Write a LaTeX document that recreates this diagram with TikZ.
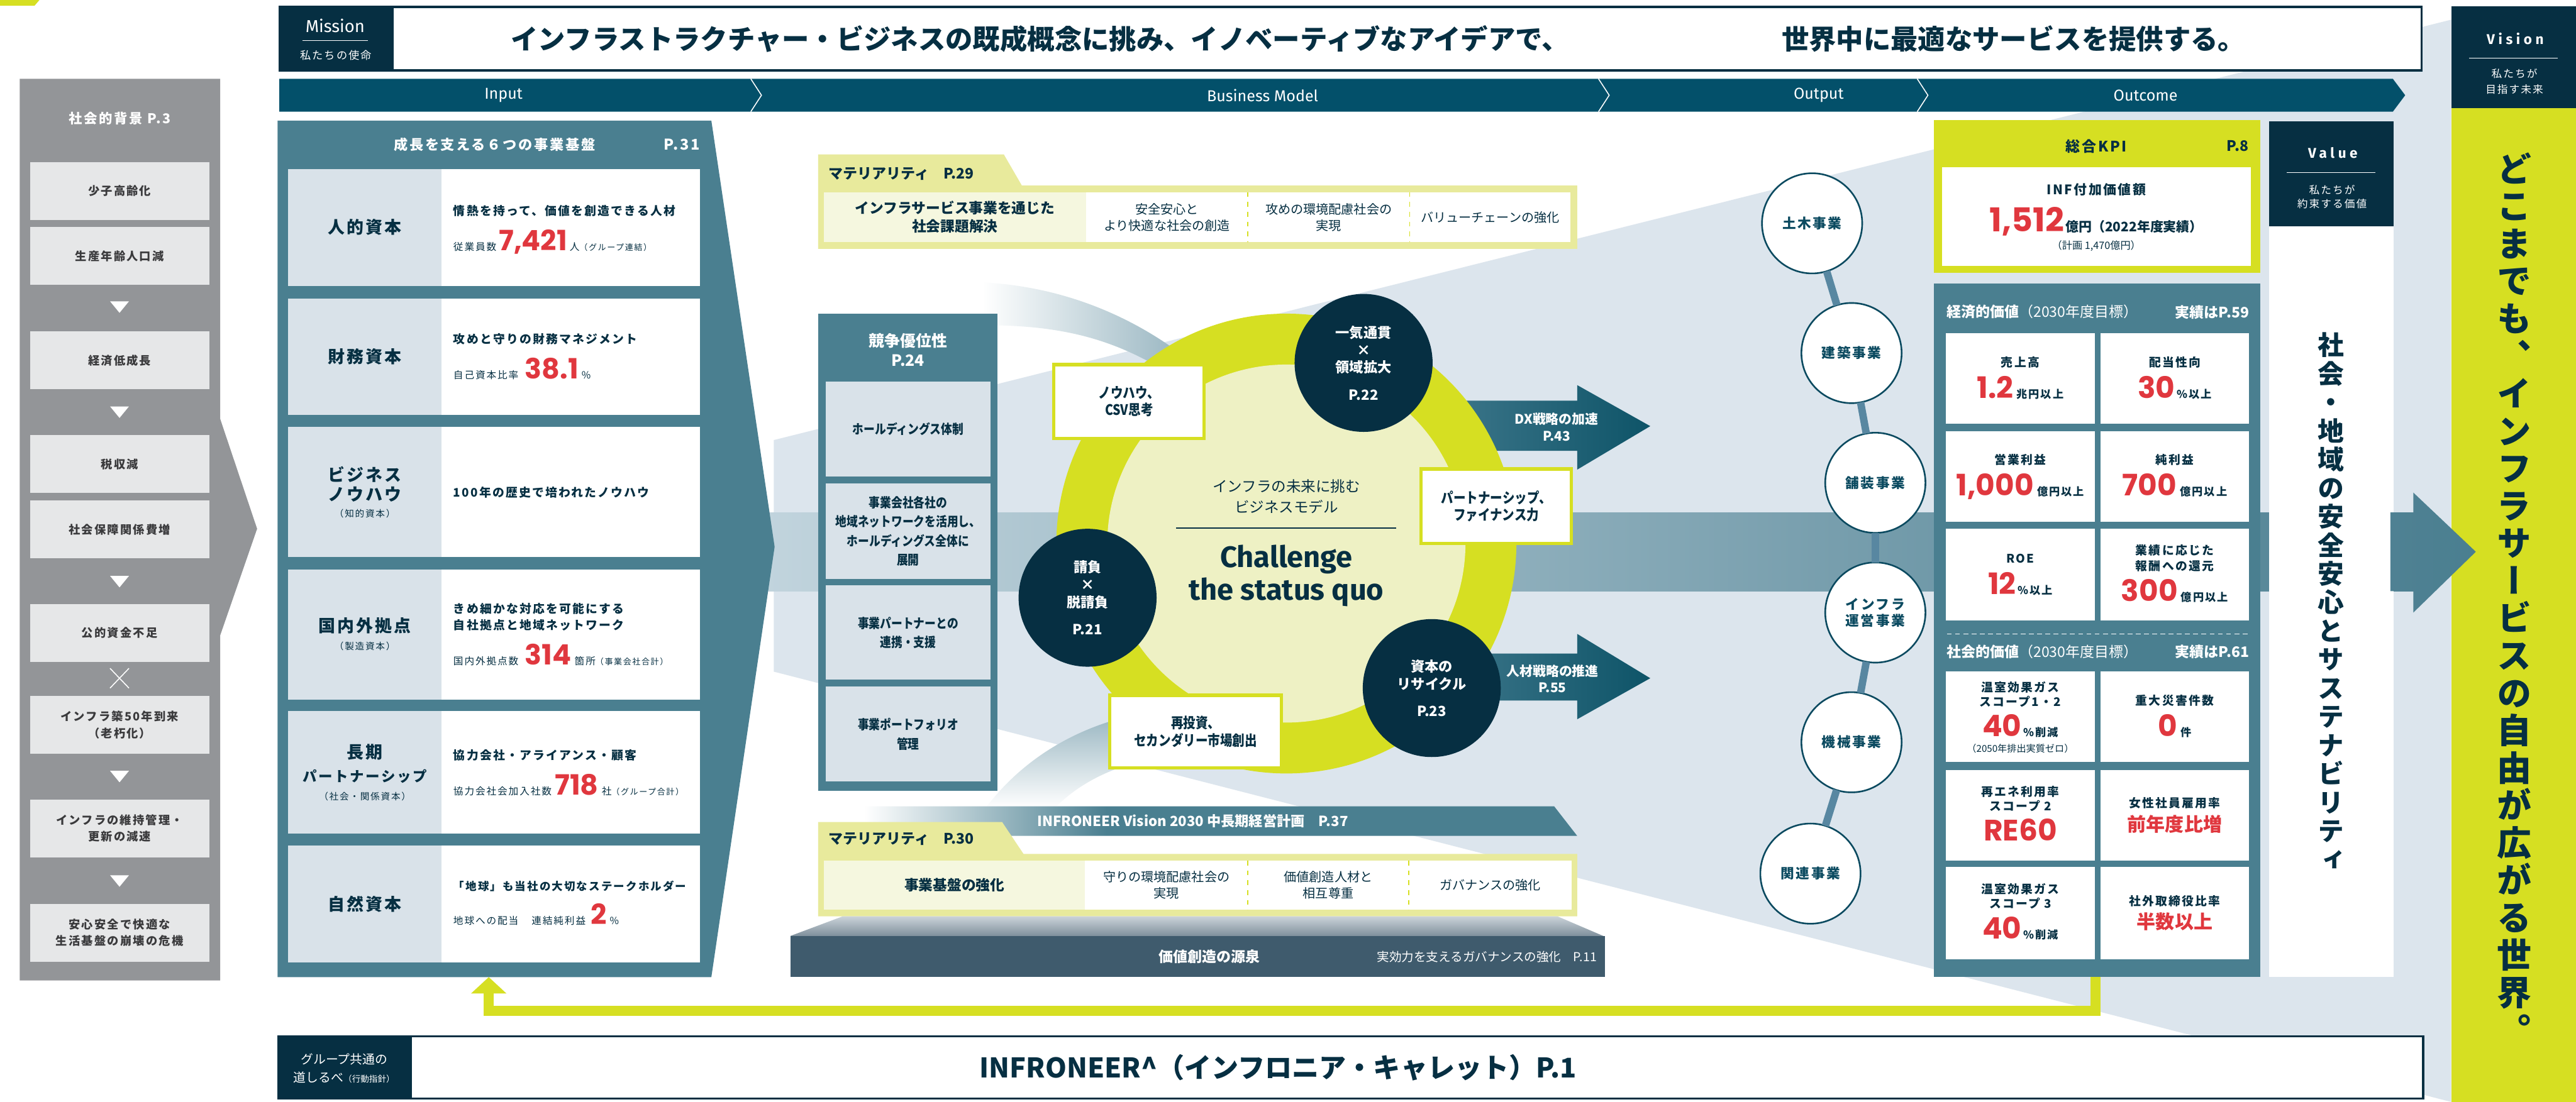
\documentclass[tikz,border=0pt]{standalone}
\usepackage{fontspec}
\setmainfont{Noto Sans CJK JP}
\newfontfamily\jpls[LetterSpace=12]{Noto Sans CJK JP}
\newfontfamily\jpc[FakeStretch=0.85]{Noto Sans CJK JP}
\newfontfamily\jpv[RawFeature=+vert]{Noto Sans CJK JP}
\newfontfamily\num{Poppins}
\newfontfamily\fira{Fira Sans}
\newfontfamily\firals[LetterSpace=25]{Fira Sans}
\usetikzlibrary{arrows.meta}
\definecolor{navy}{HTML}{062F42}
\definecolor{hdr}{HTML}{03506A}
\definecolor{panel}{HTML}{4A7F90}
\definecolor{cellL}{HTML}{D9E2E9}
\definecolor{ygreen}{HTML}{D6DF22}
\definecolor{mtab}{HTML}{E8EA9C}
\definecolor{mcell}{HTML}{F5F7DF}
\definecolor{kred}{HTML}{E0373E}
\definecolor{gcol}{HTML}{939598}
\definecolor{gbox}{HTML}{E6E7E8}
\definecolor{gtext}{HTML}{3A3A3C}
\definecolor{wedge}{HTML}{DCE5ED}
\definecolor{darkblk}{HTML}{3F5B6D}
\definecolor{ringin}{HTML}{EEF1C4}
\definecolor{outline}{HTML}{0B4A60}
\definecolor{outconn}{HTML}{5887A1}
\definecolor{arrL}{HTML}{3A7488}
\definecolor{arrR}{HTML}{0E5468}
\definecolor{bandL}{HTML}{C4D6DF}
\definecolor{bandR}{HTML}{4F8193}
\definecolor{swoosh}{HTML}{9DB9C4}
\definecolor{trapT}{HTML}{CBD3D9}
\definecolor{trapB}{HTML}{7F909C}
\pgfdeclarehorizontalshading{visfade}{100bp}{color(0bp)=(white); color(25bp)=(white); color(42bp)=(panel); color(100bp)=(panel)}
\newcommand\fs[1]{\fontsize{#1}{#1}\selectfont}
\newcommand\fsb[2]{\fontsize{#1}{#2}\selectfont}
\newcommand\rn[2]{{\num\bfseries\fontsize{#1}{#1}\selectfont\color{kred}#2}}
\newcommand\ku[1]{{\jpls\bfseries\fs{6.6}\color{navy}#1}}
\newcommand\ks[1]{{\jpls\fs{6}#1}}
\tikzset{
  bgbox/.style={fill=gbox, minimum width=109pt, minimum height=35.2pt, align=center, text=gtext, font=\jpls\bfseries\fsb{7}{10}},
  inL/.style={fill=cellL, minimum width=93.2pt},
  inR/.style={fill=white, minimum width=157.3pt},
  inLT/.style={font=\jpls\bfseries\fs{10.3}, text=navy},
  inSub/.style={font=\jpls\fs{5.6}, text=navy},
  inRT/.style={anchor=west, font=\jpls\bfseries\fs{7.2}, text=navy},
  inNum/.style={anchor=base west, text=navy},
  cpcell/.style={fill=cellL, minimum width=100.5pt, minimum height=57.5pt, align=center, text=navy, font=\jpc\bfseries\fsb{8}{11.7}},
  navyc/.style={circle, fill=navy, minimum size=84pt, align=center, text=white, font=\bfseries\fsb{8.5}{10.6}},
  ybox/.style={draw=ygreen, line width=2pt, fill=white, align=center, text=navy, font=\jpc\bfseries\fsb{8.8}{10.6}},
  outc/.style={circle, draw=outline, line width=1pt, fill=white, minimum size=61pt, align=center, text=outline, font=\jpls\bfseries\fsb{8.3}{9.8}},
  conn/.style={draw=outconn, line width=4.5pt},
  kcell/.style={fill=white, minimum width=90.5pt, minimum height=55pt},
  ktitle/.style={font=\jpls\bfseries\fs{7.2}, text=navy},
  mtxt/.style={align=center, text=navy},
  hdrlbl/.style={font=\fira\fs{9.6}, text=white},
}
\begin{document}
\begin{tikzpicture}[x=1pt,y=-1pt,every node/.style={inner sep=0pt,outer sep=0pt}]
\useasboundingbox (0,0) rectangle (1568,671);
\fill[white] (0,0) rectangle (1568,671);
\fill[ygreen] (0,0) -- (24,0) -- (21,3.5) -- (0,3.5) -- cycle;
% background wedge and band
\fill[wedge] (471,268) -- (1492,12) -- (1492,671) -- (471,409) -- cycle;
\shade[left color=bandL, right color=bandR] (440,312) rectangle (1470,360);
\shade[left color=white, right color=swoosh] (598,172) .. controls (640,174) and (680,188) .. (714,212) -- (706,224) .. controls (672,204) and (640,198) .. (598,198) -- cycle;
\shade[top color=swoosh, bottom color=white] (680,438) .. controls (645,448) and (618,468) .. (600,492) -- (642,492) .. controls (652,482) and (664,474) .. (680,468) -- cycle;

% ---------- left column
\fill[gcol] (12,48) -- (134,48) -- (134,255) -- (156.5,322) -- (134,387) -- (134,597) -- (12,597) -- cycle;
\node[font=\jpls\bfseries\fs{8.2}, text=white] (gT) at (72.8,72) {社会的背景 P.3};
\node[bgbox] (g1) at (72.8,116.2) {少子高齢化};
\node[bgbox] (g2) at (72.8,155.9) {生産年齢人口減};
\node[bgbox] (g3) at (72.8,219.4) {経済低成長};
\node[bgbox] (g4) at (72.8,282.6) {税収減};
\node[bgbox] (g5) at (72.8,322.5) {社会保障関係費増};
\node[bgbox] (g6) at (72.8,385.5) {公的資金不足};
\node[bgbox] (g7) at (72.8,441.4) {インフラ築50年到来\\（老朽化）};
\node[bgbox] (g8) at (72.8,504.5) {インフラの維持管理・\\更新の減速};
\node[bgbox] (g9) at (72.8,568) {安心安全で快適な\\生活基盤の崩壊の危機};
\foreach \yy in {183.5,247.5,350.7,469.4,533}
  \fill[white] (67,\yy) -- (78.5,\yy) -- (72.75,\yy+7) -- cycle;
\draw[white, line width=0.6pt] (67,407) -- (78.5,419) (67,419) -- (78.5,407);

% ---------- input panel
\fill[panel] (169,73.5) -- (433,73.5) -- (471.5,333) -- (433,595) -- (169,595) -- cycle;
\coordinate (inB) at (297.5,595);
\node[font=\jpls\bfseries\fs{8.5}, text=white] (inT) at (301,88) {成長を支える６つの事業基盤};
\node[font=\jpls\bfseries\fs{9}, text=white] (inP) at (415,88) {P.31};
% row1
\node[inL, minimum height=71pt] (r1L) at (222.1,138.5) {};
\node[inR, minimum height=71pt] (r1R) at (347.35,138.5) {};
\node[inLT] (r1t) at (222.1,138.5) {人的資本};
\node[inRT] (r1a) at (276,128.5) {情熱を持って、価値を創造できる人材};
\node[inNum] (r1b) at (276,152.5) {\ks{従業員数}\hspace{1.5pt}\rn{17}{7,421}\hspace{1.5pt}\ks{人}{\jpls\fs{5}（グループ連結）}};
% row2
\node[inL, minimum height=70.5pt] (r2L) at (222.1,217.25) {};
\node[inR, minimum height=70.5pt] (r2R) at (347.35,217.25) {};
\node[inLT] (r2t) at (222.1,217.25) {財務資本};
\node[inRT] (r2a) at (276,206.5) {攻めと守りの財務マネジメント};
\node[inNum] (r2b) at (276,230.5) {\ks{自己資本比率}\hspace{4pt}\rn{17}{38.1}\hspace{2pt}\ks{\%}};
% row3
\node[inL, minimum height=79pt] (r3L) at (222.1,299.5) {};
\node[inR, minimum height=79pt] (r3R) at (347.35,299.5) {};
\node[inLT] (r3t) at (222.1,289) {ビジネス};
\node[inLT] (r3u) at (222.1,301) {ノウハウ};
\node[inSub] (r3s) at (222.1,312.6) {（知的資本）};
\node[inRT] (r3a) at (276,300) {100年の歴史で培われたノウハウ};
% row4
\node[inL, minimum height=79pt] (r4L) at (222.1,386.5) {};
\node[inR, minimum height=79pt] (r4R) at (347.35,386.5) {};
\node[inLT] (r4t) at (222.1,381) {国内外拠点};
\node[inSub] (r4s) at (222.1,393.5) {（製造資本）};
\node[inRT] (r4a) at (276,370.5) {きめ細かな対応を可能にする};
\node[inRT] (r4c) at (276,380.6) {自社拠点と地域ネットワーク};
\node[inNum] (r4b) at (276,405) {\ks{国内外拠点数}\hspace{4pt}\rn{17}{314}\hspace{2pt}\ks{箇所}{\jpls\fs{5}（事業会社合計）}};
% row5
\node[inL, minimum height=74.5pt] (r5L) at (222.1,470.25) {};
\node[inR, minimum height=74.5pt] (r5R) at (347.35,470.25) {};
\node[inLT] (r5t) at (222.1,458) {長期};
\node[font=\jpls\bfseries\fs{8.6}, text=navy] (r5u) at (222.1,472.7) {パートナーシップ};
\node[inSub] (r5s) at (222.1,485) {（社会・関係資本）};
\node[inRT] (r5a) at (276,460) {協力会社・アライアンス・顧客};
\node[inNum] (r5b) at (276,484) {\ks{協力会社会加入社数}\hspace{2pt}\rn{17}{718}\hspace{2pt}\ks{社}{\jpls\fs{5}（グループ合計）}};
% row6
\node[inL, minimum height=71pt] (r6L) at (222.1,550.5) {};
\node[inR, minimum height=71pt] (r6R) at (347.35,550.5) {};
\node[inLT] (r6t) at (222.1,550.5) {自然資本};
\node[anchor=west, font=\jpls\bfseries\fs{6.7}, text=navy] (r6a) at (276,539.6) {「地球」も当社の大切なステークホルダー};
\node[inNum] (r6b) at (276,563) {\ks{地球への配当}\hspace{8pt}\ks{連結純利益}\hspace{3pt}\rn{17}{2}\hspace{2pt}\ks{\%}};

% ---------- INFRONEER Vision band
\shade[shading=visfade] (526,491) -- (946,491) -- (960,509) -- (526,509) -- cycle;
\node[font=\bfseries\fs{8.5}, text=white] (visband) at (726,500) {INFRONEER Vision 2030 中長期経営計画　P.37};

% ---------- materiality top
\fill[mtab] (498,94) -- (611,94) -- (622,113) -- (960,113) -- (960,151.5) -- (498,151.5) -- cycle;
\fill[mcell] (501.5,117) rectangle (661,147.5);
\fill[white] (661,117) rectangle (956,147.5);
\draw[ygreen, dashed, line width=0.5pt] (759.5,117) -- (759.5,147.5) (858,117) -- (858,147.5);
\node[anchor=west, font=\bfseries\fs{8.8}, text=navy] (m1T) at (504.5,106) {マテリアリティ　P.29};
\node[mtxt, font=\bfseries\fsb{8.7}{11}] (m1a) at (581.25,132.3) {インフラサービス事業を通じた\\社会課題解決};
\node[mtxt, font=\fsb{7.7}{10}] (m1b) at (710.25,132.3) {安全安心と\\より快適な社会の創造};
\node[mtxt, font=\fsb{7.7}{10}] (m1c) at (808.75,132.3) {攻めの環境配慮社会の\\実現};
\node[mtxt, font=\fsb{7.7}{10}] (m1d) at (907,132.3) {バリューチェーンの強化};

% ---------- materiality bottom
\fill[mtab] (498,500.6) -- (610,500.6) -- (623,520) -- (960,520) -- (960,558) -- (498,558) -- cycle;
\fill[mcell] (501.5,524) rectangle (660.5,554);
\fill[white] (660.5,524) rectangle (956.5,554);
\draw[ygreen, dashed, line width=0.5pt] (759.5,524) -- (759.5,554) (857.5,524) -- (857.5,554);
\node[anchor=west, font=\bfseries\fs{8.8}, text=navy] (m2T) at (504.5,511) {マテリアリティ　P.30};
\node[mtxt, font=\bfseries\fs{8.7}] (m2a) at (581,539) {事業基盤の強化};
\node[mtxt, font=\fsb{7.7}{10}] (m2b) at (710,539) {守りの環境配慮社会の\\実現};
\node[mtxt, font=\fsb{7.7}{10}] (m2c) at (808.5,539) {価値創造人材と\\相互尊重};
\node[mtxt, font=\fsb{7.7}{10}] (m2d) at (907,539) {ガバナンスの強化};
\shade[top color=trapT, bottom color=trapB] (513,558) -- (948,558) -- (976,570) -- (481,570) -- cycle;
\node[fill=darkblk, minimum width=496pt, minimum height=25pt] (src) at (729,582.5) {};
\node[font=\bfseries\fs{8.8}, text=white] (srcT) at (736,582.5) {価値創造の源泉};
\node[anchor=east, font=\fs{7.5}, text=white] (srcP) at (972,582.5) {実効力を支えるガバナンスの強化　P.11};

% ---------- competitive panel
\fill[panel] (498,191) rectangle (607,481.6);
\node[font=\bfseries\fsb{9.5}{12}, text=white, align=center] (cpT) at (552.75,213) {競争優位性\\P.24};
\node[cpcell] (cp1) at (552.75,261.25) {ホールディングス体制};
\node[cpcell, minimum height=58pt] (cp2) at (552.75,323.5) {事業会社各社の\\地域ネットワークを活用し、\\ホールディングス全体に\\展開};
\node[cpcell] (cp3) at (552.75,385.25) {事業パートナーとの\\連携・支援};
\node[cpcell, minimum height=58pt] (cp4) at (552.75,447) {事業ポートフォリオ\\管理};

% ---------- teal arrows
\shade[left color=arrL, right color=arrR] (887,244) -- (960,244) -- (960,234.5) -- (1004.5,259.5) -- (960,286) -- (960,274.5) -- (887,274.5) -- cycle;
\shade[left color=arrL, right color=arrR] (887,398) -- (960,398) -- (960,386) -- (1004.5,413) -- (960,438) -- (960,426.6) -- (887,426.6) -- cycle;

% ---------- ring
\node[circle, fill=ygreen, minimum size=280pt] (ring) at (783,331) {};
\node[circle, fill=ringin, minimum size=218pt] (core) at (783,331) {};
\node[font=\fs{9}, text=navy] (ct1) at (783,296) {インフラの未来に挑む};
\node[font=\fs{9}, text=navy] (ct2) at (783,308.6) {ビジネスモデル};
\draw[navy, line width=0.7pt] (716,321.6) -- (850,321.6);
\node[font=\fira\bfseries\fs{18}, text=navy] (ct3) at (783,340.5) {Challenge};
\node[font=\fira\bfseries\fs{18}, text=navy] (ct4) at (783,360.5) {the status quo};

\node[navyc] (nc1) at (830,221) {一気通貫\\×\\領域拡大\\[6pt]P.22};
\node[navyc] (nc2) at (662,364) {請負\\×\\脱請負\\[6pt]P.21};
\node[navyc] (nc3) at (871.5,419) {資本の\\リサイクル\\[6pt]P.23};

\node[ybox, minimum width=91.5pt, minimum height=45pt] (ba) at (687.25,244.5) {ノウハウ、\\CSV思考};
\node[ybox, minimum width=91.5pt, minimum height=45.4pt] (bb) at (910.75,308.3) {パートナーシップ、\\ファイナンス力};
\node[ybox, minimum width=104.5pt, minimum height=44.2pt] (bc) at (727.75,445.5) {再投資、\\セカンダリー市場創出};

\node[font=\bfseries\fsb{8}{10.2}, text=white, align=center] (dxt) at (947.5,260) {DX戦略の加速\\P.43};
\node[font=\bfseries\fsb{8}{10.2}, text=white, align=center] (hrt) at (945,413.3) {人材戦略の推進\\P.55};

% ---------- output column
\node[outc] (o1) at (1103,136) {土木事業};
\node[outc] (o2) at (1127,215) {建築事業};
\node[outc] (o3) at (1141.5,294) {舗装事業};
\node[outc] (o4) at (1141.5,373) {インフラ\\運営事業};
\node[outc] (o5) at (1127,452) {機械事業};
\node[outc] (o6) at (1102,532) {関連事業};
\draw[conn] (o1) -- (o2);
\draw[conn] (o2) -- (o3);
\draw[conn] (o3) -- (o4);
\draw[conn] (o4) -- (o5);
\draw[conn] (o5) -- (o6);

% ---------- outcome
\node[fill=ygreen, minimum width=199pt, minimum height=93pt] (kpi) at (1276.5,119.5) {};
\node[fill=white, minimum width=188pt, minimum height=60pt] (kpiw) at (1276,132) {};
\node[font=\jpls\bfseries\fs{8.8}, text=navy] (kT) at (1276,89) {総合KPI};
\node[font=\bfseries\fs{8.8}, text=navy] (kP) at (1362,89) {P.8};
\node[font=\jpls\bfseries\fs{8}, text=navy] (k1) at (1276,115.3) {INF付加価値額};
\node[anchor=base, text=navy] (k2) at (1276,141) {\rn{20}{1,512}\hspace{1pt}{\bfseries\fs{8}億円（2022年度実績）}};
\node[font=\fs{6.2}, text=navy] (k3) at (1276,149.6) {（計画 1,470億円）};

\node[fill=panel, minimum width=199pt, minimum height=422.3pt] (outp) at (1276.5,383.85) {};
\coordinate (outB) at (1275.5,595);
\node[anchor=west, text=white] (eH) at (1185,190) {{\bfseries\fs{8.8}経済的価値}{\fs{8.8}（2030年度目標）}};
\node[anchor=east, font=\bfseries\fs{8.8}, text=white] (eP) at (1369,190) {実績はP.59};
\node[kcell] (e1) at (1229.75,230.5) {};
\node[kcell] (e2) at (1323.75,230.5) {};
\node[kcell] (e3) at (1229.75,290.25) {};
\node[kcell] (e4) at (1323.75,290.25) {};
\node[kcell, minimum height=55.7pt] (e5) at (1229.75,349.85) {};
\node[kcell, minimum height=55.7pt] (e6) at (1323.75,349.85) {};
\node[ktitle] (e1t) at (1229.75,220.6) {売上高};
\node[anchor=base] (e1n) at (1229.75,242.4) {\rn{18}{1.2}\hspace{2pt}\ku{兆円以上}};
\node[ktitle] (e2t) at (1323.75,220.6) {配当性向};
\node[anchor=base] (e2n) at (1323.75,242.4) {\rn{18}{30}\hspace{1pt}\ku{\%以上}};
\node[ktitle] (e3t) at (1229.75,280.1) {営業利益};
\node[anchor=base] (e3n) at (1229.75,301.9) {\rn{18}{1,000}\hspace{2pt}\ku{億円以上}};
\node[ktitle] (e4t) at (1323.75,280.1) {純利益};
\node[anchor=base] (e4n) at (1323.75,301.9) {\rn{18}{700}\hspace{2pt}\ku{億円以上}};
\node[ktitle] (e5t) at (1229.75,340) {ROE};
\node[anchor=base] (e5n) at (1229.75,362.1) {\rn{18}{12}\hspace{1pt}\ku{\%以上}};
\node[ktitle] (e6t) at (1323.75,335) {業績に応じた};
\node[ktitle] (e6u) at (1323.75,344.6) {報酬への還元};
\node[anchor=base] (e6n) at (1323.75,366.2) {\rn{18}{300}\hspace{2pt}\ku{億円以上}};
\draw[white, line width=0.6pt, dash pattern=on 3pt off 2pt] (1185,386) -- (1369,386);
\node[anchor=west, text=white] (sH) at (1185,397) {{\bfseries\fs{8.8}社会的価値}{\fs{8.8}（2030年度目標）}};
\node[anchor=east, font=\bfseries\fs{8.8}, text=white] (sP) at (1369,397) {実績はP.61};
\node[kcell] (s1) at (1229.75,436.5) {};
\node[kcell] (s2) at (1323.75,436.5) {};
\node[kcell] (s3) at (1229.75,496.5) {};
\node[kcell] (s4) at (1323.75,496.5) {};
\node[kcell, minimum height=56pt] (s5) at (1229.75,556) {};
\node[kcell, minimum height=56pt] (s6) at (1323.75,556) {};
\node[ktitle] (s1t) at (1229.75,418.4) {温室効果ガス};
\node[ktitle] (s1u) at (1229.75,427.2) {スコープ1・2};
\node[anchor=base] (s1n) at (1229.75,448.6) {\rn{18}{40}\hspace{1pt}\ku{\%削減}};
\node[font=\fs{5.8}, text=navy] (s1v) at (1229.75,455.8) {（2050年排出実質ゼロ）};
\node[ktitle] (s2t) at (1323.75,426.7) {重大災害件数};
\node[anchor=base] (s2n) at (1323.75,448.6) {\rn{18}{0}\hspace{2pt}\ku{件}};
\node[ktitle] (s3t) at (1229.75,482) {再エネ利用率};
\node[ktitle] (s3u) at (1229.75,490.7) {スコープ 2};
\node[anchor=base] (s3n) at (1229.75,512) {\rn{18}{RE60}};
\node[ktitle] (s4t) at (1323.75,489) {女性社員雇用率};
\node[font=\bfseries\fs{11.5}, text=kred] (s4n) at (1323.75,501.8) {前年度比増};
\node[ktitle] (s5t) at (1229.75,541.5) {温室効果ガス};
\node[ktitle] (s5u) at (1229.75,550.2) {スコープ 3};
\node[anchor=base] (s5n) at (1229.75,571.7) {\rn{18}{40}\hspace{1pt}\ku{\%削減}};
\node[ktitle] (s6t) at (1323.75,548.6) {社外取締役比率};
\node[font=\bfseries\fs{11.5}, text=kred] (s6n) at (1323.75,561.2) {半数以上};

% ---------- value
\node[fill=navy, minimum width=76pt, minimum height=64pt] (valH) at (1419,106) {};
\node[fill=white, minimum width=76pt, minimum height=457pt] (valB) at (1419,366.5) {};
\node[font=\firals\bfseries\fs{8.6}, text=white] (valT1) at (1420,93) {Value};
\draw[white, line width=0.4pt] (1392,105) -- (1446,105);
\node[font=\jpls\fs{6.4}, text=white] (valT2) at (1419.5,115.6) {私たちが};
\node[font=\jpls\fs{6.4}, text=white] (valT3) at (1419.5,124) {約束する価値};
\node[font=\jpv\bfseries\fsb{16}{17.4}, text=navy, align=center] (valV) at (1419,366) {社\\会\\・\\地\\域\\の\\安\\全\\安\\心\\と\\サ\\ス\\テ\\ナ\\ビ\\リ\\テ\\ィ};

% ---------- vision
\node[fill=navy, minimum width=76pt, minimum height=62pt] (visH) at (1530,35) {};
\node[fill=ygreen, minimum width=76pt, minimum height=605pt] (visB) at (1530,368.5) {};
\node[font=\firals\bfseries\fs{8.6}, text=white] (visT1) at (1531,23.5) {Vision};
\draw[white, line width=0.4pt] (1503,35.5) -- (1557,35.5);
\node[font=\jpls\fs{6.4}, text=white] (visT2) at (1530.5,45) {私たちが};
\node[font=\jpls\fs{6.4}, text=white] (visT3) at (1530.5,54.4) {目指す未来};
\node[font=\jpv\bfseries\fsb{21}{22.8}, text=navy, align=center] (visV) at (1530.5,364) {ど\\こ\\ま\\で\\も\\、\\イ\\ン\\フ\\ラ\\サ\\ー\\ビ\\ス\\の\\自\\由\\が\\広\\が\\る\\世\\界\\。};

% big arrow
\shade[left color=bandR, right color=panel] (1455,312) -- (1469,312) -- (1469,300) -- (1507,336) -- (1469,373) -- (1469,360) -- (1455,360) -- cycle;

% ---------- mission bar
\node[draw=navy, line width=1.4pt, fill=white, minimum width=1235pt, minimum height=38.8pt] (misB) at (856.5,23.6) {};
\node[fill=navy, minimum width=70pt, minimum height=40.2pt] (misL) at (204.5,23.6) {};
\node[font=\fira\fs{10.5}, text=white] (misT1) at (204,15.6) {Mission};
\draw[white, line width=0.5pt] (184,24.6) -- (224,24.6);
\node[font=\jpls\fs{6.6}, text=white] (misT2) at (204.5,33.6) {私たちの使命};
\node[anchor=west, font=\bfseries\fs{16.6}, text=navy] (mis1) at (311,23.5) {インフラストラクチャー・ビジネスの既成概念に挑み、イノベーティブなアイデアで、};
\node[anchor=west, font=\bfseries\fs{16.6}, text=navy] (mis2) at (1084.5,23.5) {世界中に最適なサービスを提供する。};

% ---------- header bar
\fill[hdr] (170,48) -- (1456.5,48) -- (1464,58) -- (1456.5,68) -- (170,68) -- cycle;
\draw[white, line width=0.6pt] (457,48) -- (463.5,58) -- (457,68);
\draw[white, line width=0.6pt] (973,48) -- (979.5,58) -- (973,68);
\draw[white, line width=0.6pt] (1167,48) -- (1173.5,58) -- (1167,68);
\node[hdrlbl] (hIn) at (306.5,58) {Input};
\node[hdrlbl] (hBm) at (768.5,58) {Business Model};
\node[hdrlbl] (hOut) at (1107,58) {Output};
\node[hdrlbl] (hOc) at (1306,58) {Outcome};

% ---------- bottom bar
\node[draw=navy, line width=1.4pt, fill=white, minimum width=1225pt, minimum height=38pt] (botB) at (862.5,650) {};
\node[fill=navy, minimum width=81pt, minimum height=39.4pt] (botL) at (209.5,650) {};
\node[font=\fs{7.6}, text=white] (botL1) at (209.5,645) {グループ共通の};
\node[text=white] (botL2) at (209.5,656) {{\fs{7.6}道しるべ}{\fs{5.2}（行動指針）}};
\node[font=\bfseries\fs{16.5}, text=navy] (botT) at (778,650) {INFRONEER\textasciicircum（インフロニア・キャレット）P.1};

% ---------- yellow connector
\draw[ygreen, line width=6pt, -{Triangle[width=21pt,length=10pt]}] (outB) -- ++(0,20.5) -| (inB);
\end{tikzpicture}
\end{document}
